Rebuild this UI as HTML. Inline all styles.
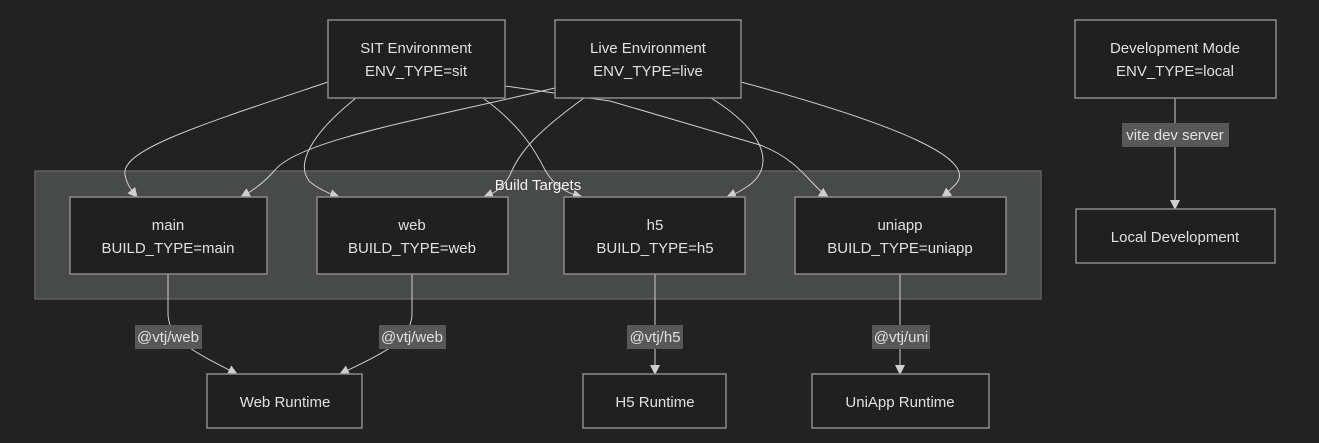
<!DOCTYPE html>
<html><head><meta charset="utf-8"><style>
html,body{margin:0;padding:0;background:#222222;}
svg{display:block}
text{font-family:"Liberation Sans",sans-serif;font-size:15px;fill:#e0e0e0;text-anchor:middle}
.n{fill:#202020;stroke:#8a8a8a;stroke-width:1.5}
.e{fill:none;stroke:#cfcfcf;stroke-width:1}
.lb{fill:#585858}
</style></head><body>
<svg width="1319" height="443" viewBox="0 0 1319 443">
<defs><marker id="a" viewBox="0 0 10 10" refX="9" refY="5" markerWidth="10" markerHeight="10" orient="auto-start-reverse" markerUnits="userSpaceOnUse"><path d="M0,0L10,5L0,10z" fill="#cfcfcf"/></marker></defs>
<rect x="35" y="171" width="1006" height="128" fill="#484a49" stroke="#5e5e5e" stroke-width="1.5"/>
<text x="538" y="190" style="fill:#f4f4f4">Build Targets</text>
<path class="e" marker-end="url(#a)" d="M328,82 C200,125 120,150 125,175 C127,185 132,191 137,197"/>
<path class="e" marker-end="url(#a)" d="M356,98 C310,135 295,165 310,182 C320,190 330,194 339,197"/>
<path class="e" marker-end="url(#a)" d="M483,98 C520,125 535,150 545,170 C555,188 570,194 582,197"/>
<path class="e" marker-end="url(#a)" d="M505,86 L610,101 L760,145 C800,160 810,185 828,197"/>
<path class="e" marker-end="url(#a)" d="M555,88 C420,120 300,140 275,170 C262,185 250,192 241,197"/>
<path class="e" marker-end="url(#a)" d="M584,98 C540,130 520,150 510,175 C502,190 492,194 484,197"/>
<path class="e" marker-end="url(#a)" d="M711,98 C770,135 775,170 745,188 C738,193 732,195 727,197"/>
<path class="e" marker-end="url(#a)" d="M741,82 C900,125 980,160 955,185 C950,190 946,194 942,197"/>
<path class="e" marker-end="url(#a)" d="M168,274 L168,315 C170,340 190,350 237,374"/>
<path class="e" marker-end="url(#a)" d="M412,274 L412,315 C410,340 390,350 340,374"/>
<path class="e" marker-end="url(#a)" d="M655,274 L655,374"/>
<path class="e" marker-end="url(#a)" d="M900,274 L900,374"/>
<path class="e" marker-end="url(#a)" d="M1175,98 L1175,209"/>
<rect class="lb" x="135" y="325" width="67" height="24"/><text x="168" y="342">@vtj/web</text>
<rect class="lb" x="379" y="325" width="67" height="24"/><text x="412" y="342">@vtj/web</text>
<rect class="lb" x="627" y="325" width="56" height="24"/><text x="655" y="342">@vtj/h5</text>
<rect class="lb" x="872" y="325" width="58" height="24"/><text x="901" y="342">@vtj/uni</text>
<rect class="lb" x="1122" y="123" width="107" height="24"/><text x="1175" y="140">vite dev server</text>
<rect class="n" x="328" y="20" width="177" height="78"/><text x="416" y="53">SIT Environment</text><text x="416" y="76">ENV_TYPE=sit</text>
<rect class="n" x="555" y="20" width="186" height="78"/><text x="648" y="53">Live Environment</text><text x="648" y="76">ENV_TYPE=live</text>
<rect class="n" x="1075" y="20" width="201" height="78"/><text x="1175" y="53">Development Mode</text><text x="1175" y="76">ENV_TYPE=local</text>
<rect class="n" x="70" y="197" width="197" height="77"/><text x="168" y="230">main</text><text x="168" y="253">BUILD_TYPE=main</text>
<rect class="n" x="317" y="197" width="191" height="77"/><text x="412" y="230">web</text><text x="412" y="253">BUILD_TYPE=web</text>
<rect class="n" x="564" y="197" width="181" height="77"/><text x="655" y="230">h5</text><text x="655" y="253">BUILD_TYPE=h5</text>
<rect class="n" x="795" y="197" width="211" height="77"/><text x="900" y="230">uniapp</text><text x="900" y="253">BUILD_TYPE=uniapp</text>
<rect class="n" x="1076" y="209" width="199" height="54"/><text x="1175" y="242">Local Development</text>
<rect class="n" x="207" y="374" width="155" height="54"/><text x="285" y="407">Web Runtime</text>
<rect class="n" x="583" y="374" width="143" height="54"/><text x="655" y="407">H5 Runtime</text>
<rect class="n" x="812" y="374" width="177" height="54"/><text x="900" y="407">UniApp Runtime</text>
</svg>
</body></html>
